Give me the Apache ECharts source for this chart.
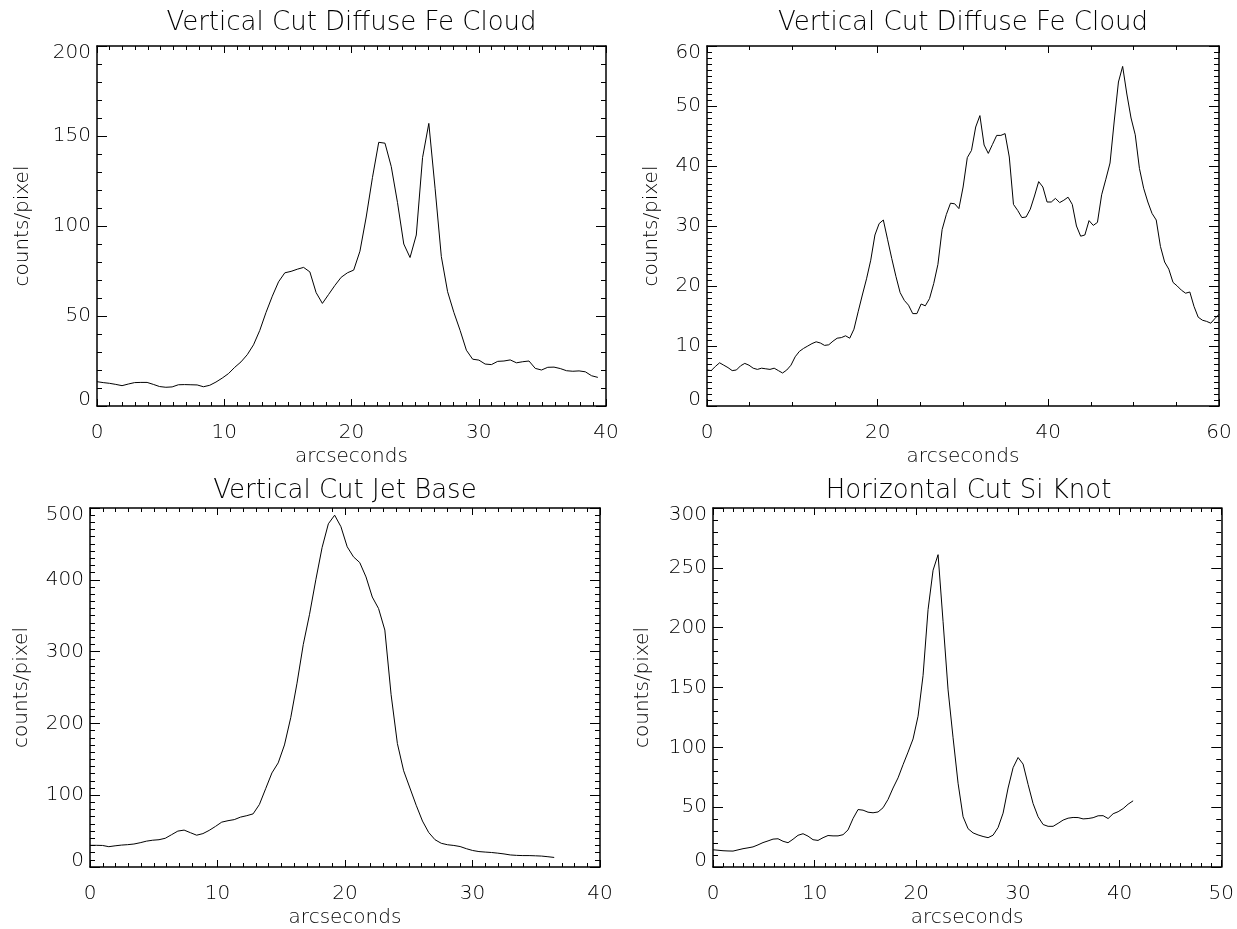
<!DOCTYPE html>
<html>
<head>
<meta charset="utf-8">
<title>Chandra brightness cuts</title>
<script src="https://cdn.jsdelivr.net/npm/echarts/dist/echarts.min.js"></script>
<style>
  html, body { margin: 0; padding: 0; background: #ffffff; }
  #chart { width: 1237px; height: 929px; }
</style>
</head>
<body>
<div id="chart"></div>
<script>
// Sampling step along each cut, arcseconds per detector pixel
const STEP = 0.492;

// Vertical cut through the diffuse Fe cloud (counts/pixel), left panel
const feCloudLeft = [
  13.5, 13.0, 12.6, 12.0, 11.3, 12.2, 13.0, 13.1, 13.1, 12.0,
  10.8, 10.4, 10.6, 11.8, 11.9, 11.8, 11.7, 10.7, 11.5, 13.3,
  15.5, 18.0, 21.5, 24.5, 28.5, 34.0, 42.0, 52.0, 61.0, 69.0,
  74.0, 74.8, 76.0, 77.0, 74.5, 63.0, 57.0, 62.0, 67.0, 71.5,
  74.0, 75.5, 86.0, 105.0, 127.0, 146.5, 146.0, 133.0, 113.0, 90.0,
  82.5, 95.0, 138.0, 157.0, 121.0, 83.0, 63.5, 52.0, 42.0, 31.0,
  26.0, 25.5, 23.3, 23.0, 24.8, 25.0, 25.6, 24.0, 24.6, 25.0,
  20.9, 20.0, 21.5, 21.6, 20.8, 19.6, 19.3, 19.5, 19.0, 16.8,
  15.9
];

// Vertical cut through the diffuse Fe cloud (counts/pixel), right panel
const feCloudRight = [
  6.0, 5.9, 6.6, 7.2, 6.8, 6.4, 5.9, 6.0, 6.7, 7.1,
  6.8, 6.3, 6.1, 6.3, 6.2, 6.1, 6.3, 5.9, 5.5, 6.0,
  6.8, 8.2, 9.1, 9.6, 10.0, 10.4, 10.7, 10.5, 10.1, 10.2,
  10.8, 11.3, 11.4, 11.7, 11.3, 12.8, 15.7, 18.5, 21.2, 24.3,
  28.5, 30.4, 31.0, 27.8, 24.6, 21.6, 18.9, 17.6, 16.8, 15.4,
  15.4, 17.0, 16.7, 17.9, 20.4, 23.6, 29.4, 31.9, 33.8, 33.7,
  32.9, 36.5, 41.4, 42.6, 46.5, 48.4, 43.5, 42.1, 43.6, 45.1,
  45.1, 45.4, 41.5, 33.6, 32.6, 31.4, 31.5, 32.8, 35.0, 37.4,
  36.5, 34.0, 34.0, 34.6, 33.9, 34.3, 34.8, 33.6, 30.0, 28.3,
  28.5, 30.9, 30.1, 30.6, 35.2, 37.8, 40.5, 47.5, 54.0, 56.6,
  52.0, 48.0, 45.2, 39.6, 36.3, 34.0, 32.1, 31.0, 26.6, 24.0,
  22.8, 20.6, 20.0, 19.3, 18.8, 19.0, 16.6, 14.8, 14.3, 14.1,
  13.8, 14.6, 15.3
];

// Vertical cut through the jet base (counts/pixel)
const jetBase = [
  30.2, 30.2, 30.0, 28.3, 29.5, 30.5, 31.1, 32.0, 33.8, 36.0,
  37.3, 38.0, 40.0, 45.0, 50.0, 51.4, 47.8, 44.3, 46.5, 51.0,
  56.5, 62.5, 64.5, 66.0, 69.5, 71.5, 74.0, 87.0, 109.0, 131.0,
  145.0, 170.0, 208.0, 256.0, 310.0, 352.0, 400.0, 445.0, 478.0, 490.0,
  474.0, 446.0, 432.0, 424.0, 404.0, 376.0, 360.0, 330.0, 240.0, 172.0,
  134.0, 110.0, 86.0, 64.0, 48.0, 38.0, 33.0, 31.0, 30.0, 28.5,
  25.5, 23.0, 21.5, 20.8, 20.2, 19.3, 18.2, 16.8, 16.2, 15.9,
  15.9, 15.6, 15.2, 14.3, 13.3
];

// Horizontal cut through the Si knot (counts/pixel)
const siKnot = [
  14.4, 14.0, 13.6, 13.4, 13.3, 14.3, 15.3, 16.0, 16.8, 18.5,
  20.4, 21.8, 23.3, 23.6, 21.5, 20.3, 23.2, 26.5, 27.8, 25.8,
  22.8, 22.2, 24.5, 26.3, 26.0, 26.0, 27.0, 31.0, 40.5, 48.0,
  47.5, 45.8, 45.3, 46.0, 49.5, 56.5, 66.0, 74.5, 85.5, 96.0,
  107.0, 126.0, 160.0, 215.0, 248.0, 261.0, 205.0, 148.0, 108.0, 70.0,
  42.0, 32.0, 28.5, 26.8, 25.5, 24.5, 26.6, 33.0, 45.0, 66.0,
  83.0, 91.5, 86.0, 69.0, 53.0, 42.0, 35.5, 34.0, 34.0, 36.5,
  39.2, 40.8, 41.4, 41.3, 40.2, 40.5, 41.2, 42.8, 42.9, 40.5,
  44.5, 46.2, 48.8, 52.5, 55.3
];

const panelTitles = [
  'Vertical Cut Diffuse Fe Cloud',
  'Vertical Cut Diffuse Fe Cloud',
  'Vertical Cut Jet Base',
  'Horizontal Cut Si Knot'
];
const xAxisTitle = 'arcseconds';
const yAxisTitle = 'counts/pixel';

// Axis ranges: [max, major interval, minor divisions]
const xRanges = [[40, 10, 10], [60, 20, 4], [40, 10, 10], [50, 10, 10]];
const yRanges = [[200, 50, 5], [60, 10, 10], [500, 100, 10], [300, 50, 5]];

const profiles = [feCloudLeft, feCloudRight, jetBase, siKnot];

// Plot frames in pixels
const frames = [
  { left: 97,  top: 46,  width: 509, height: 360, nameGap: 64, titleTop: 10 },
  { left: 707, top: 46,  width: 512, height: 360, nameGap: 45, titleTop: 10 },
  { left: 90,  top: 508, width: 510, height: 361, nameGap: 58, titleTop: 478 },
  { left: 713, top: 508, width: 511, height: 361, nameGap: 60, titleTop: 478 }
];

const FONT = 'DejaVu Sans';
const INK = '#000000';
const baseText = { fontFamily: FONT, fontWeight: 200, color: INK };

const grid = [];
const xAxis = [];
const yAxis = [];
const series = [];
const title = [];

frames.forEach(function (f, g) {
  const [xMax, xInt, xMinor] = xRanges[g];
  const [yMax, yInt, yMinor] = yRanges[g];

  grid.push({ left: f.left, top: f.top, width: f.width, height: f.height, containLabel: false });

  title.push({
    text: panelTitles[g],
    left: f.left + f.width / 2,
    top: f.titleTop,
    textAlign: 'center',
    padding: 0,
    textStyle: Object.assign({ fontSize: 26 }, baseText)
  });

  const lineStyle = { color: INK, width: 1.5 };
  const xCommon = {
    type: 'value', gridIndex: g, min: 0, max: xMax, interval: xInt,
    axisLine: { show: true, onZero: false, lineStyle: lineStyle },
    axisTick: { show: true, inside: true, length: 7, lineStyle: { color: INK, width: 1 } },
    minorTick: { show: true, splitNumber: xMinor, length: 4, lineStyle: { color: INK, width: 1 } },
    splitLine: { show: false },
    minorSplitLine: { show: false }
  };
  const yCommon = {
    type: 'value', gridIndex: g, min: 0, max: yMax, interval: yInt,
    axisLine: { show: true, onZero: false, lineStyle: lineStyle },
    axisTick: { show: true, inside: true, length: 10, lineStyle: { color: INK, width: 1 } },
    minorTick: { show: true, splitNumber: yMinor, length: 5, lineStyle: { color: INK, width: 1 } },
    splitLine: { show: false },
    minorSplitLine: { show: false }
  };

  // bottom axis with labels and name, top axis as a mirrored frame edge
  xAxis.push(Object.assign({}, xCommon, {
    position: 'bottom',
    name: xAxisTitle, nameLocation: 'middle', nameGap: 41,
    nameTextStyle: Object.assign({ fontSize: 20 }, baseText),
    axisLabel: Object.assign({ show: true, margin: 17, fontSize: 20, showMinLabel: true, showMaxLabel: true }, baseText)
  }));
  xAxis.push(Object.assign({}, xCommon, {
    position: 'top', axisLabel: { show: false }
  }));

  const endLabelText = Object.assign({ fontSize: 20 }, baseText);
  yAxis.push(Object.assign({}, yCommon, {
    position: 'left',
    name: yAxisTitle, nameLocation: 'middle', nameGap: f.nameGap, nameRotate: 90,
    nameTextStyle: Object.assign({ fontSize: 20 }, baseText),
    axisLabel: Object.assign({
      show: true, margin: 6, fontSize: 20, showMinLabel: true, showMaxLabel: true,
      formatter: function (v) {
        if (v === yMax) return '{hi|' + v + '}';
        if (v === 0) return '{lo|' + v + '}';
        return String(v);
      },
      rich: {
        hi: Object.assign({ padding: [14, 0, 0, 0] }, endLabelText),
        lo: Object.assign({ padding: [0, 0, 12, 0] }, endLabelText)
      }
    }, baseText)
  }));
  yAxis.push(Object.assign({}, yCommon, {
    position: 'right', axisLabel: { show: false }
  }));

  series.push({
    type: 'line',
    xAxisIndex: 2 * g,
    yAxisIndex: 2 * g,
    data: profiles[g].map(function (v, i) { return [i * STEP, v]; }),
    showSymbol: false,
    symbol: 'none',
    clip: true,
    silent: true,
    animation: false,
    lineStyle: { color: INK, width: 1 }
  });
});

const chart = echarts.init(document.getElementById('chart'), null, { renderer: 'canvas' });
chart.setOption({
  backgroundColor: '#ffffff',
  animation: false,
  title: title,
  grid: grid,
  xAxis: xAxis,
  yAxis: yAxis,
  series: series
});
</script>
</body>
</html>
